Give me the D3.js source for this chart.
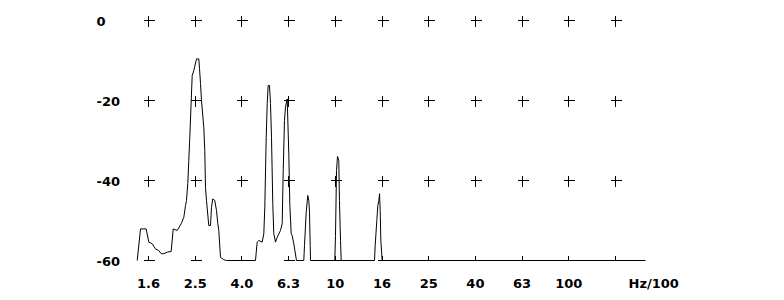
<!DOCTYPE html>
<html>
<head>
<meta charset="utf-8">
<script src="https://cdn.jsdelivr.net/npm/d3@7"></script>
<style>
  html, body { margin: 0; padding: 0; background: #fff; }
  svg { display: block; }
  text { font-family: "DejaVu Sans", sans-serif; font-weight: bold; font-size: 13px; fill: #000; }
</style>
</head>
<body>
<svg id="chart" width="784" height="300"></svg>
<script>
// Frequency axis: 1/5-decade steps (Hz/100)
const freqTicks = [1.585, 2.512, 3.981, 6.310, 10, 15.85, 25.12, 39.81, 63.10, 100, 158.5];
const freqLabels = ["1.6", "2.5", "4.0", "6.3", "10", "16", "25", "40", "63", "100", ""];
const freqUnit = "Hz/100";
// Level axis (dB)
const levelTicks = [0, -20, -40, -60];
const levelLabels = ["0", "-20", "-40", "-60"];

// Spectrum trace: frequency (Hz/100) and level (dB)
const specFreq = [
  1.418, 1.465, 1.549, 1.590, 1.644, 1.698, 1.754, 1.796, 1.843, 1.910,
  1.982, 2.022, 2.103, 2.188, 2.245, 2.283, 2.305, 2.335, 2.358, 2.382,
  2.415, 2.439, 2.478, 2.545, 2.603, 2.621, 2.647, 2.673, 2.734, 2.761,
  2.780, 2.808, 2.872, 2.921, 2.950, 2.988, 3.047, 3.099, 3.139, 3.170,
  3.224, 3.331, 3.420, 4.552, 4.629, 4.703, 4.863, 4.941, 4.990, 5.060,
  5.110, 5.159, 5.226, 5.279, 5.331, 5.399, 5.453, 5.545, 5.639, 5.825,
  5.924, 5.983, 6.059, 6.119, 6.223, 6.323, 6.384, 6.473, 6.537, 6.642,
  6.820, 7.330, 7.381, 7.506, 7.625, 7.700, 7.754, 7.808, 7.831, 9.952,
  10.02, 10.12, 10.22, 10.35, 10.42, 10.53, 10.60, 14.72, 14.82, 15.06,
  15.21, 15.36, 15.47, 15.57, 15.67, 15.88, 213.1
];
const specLevel = [
  -60, -52.1, -52.1, -55.4, -55.8, -57.1, -57.5, -58.3, -58.3, -57.9,
  -57.75, -52.1, -52.5, -50.8, -49.2, -46.25, -45, -40.75, -35, -29.2,
  -20, -13.75, -12.5, -9.6, -9.6, -12, -15.75, -20, -26.7, -32.5,
  -41.7, -45, -51.25, -51.25, -46.7, -44.6, -45, -47.5, -50.75, -52.5,
  -59.2, -59.8, -60, -60, -55.4, -55, -55.4, -53.3, -46.7, -29.2,
  -20.8, -16.25, -16.25, -20.8, -29.2, -45.8, -53.3, -55.4, -54.2, -52.5,
  -50.8, -37.5, -25, -21.7, -19.6, -33.3, -45.8, -53.3, -53.75, -55.8,
  -60, -60, -56.25, -47.9, -43.75, -45, -47.9, -56.25, -60, -60,
  -53.75, -37.5, -34, -35, -45, -55, -60, -60, -56.25, -50,
  -46.25, -45, -43.3, -47.5, -55, -60, -60
];

const svg = d3.select("#chart");
const g = svg.append("g").attr("transform", "translate(0.5,0.5)");

const x = d3.scaleLog().domain([freqTicks[0], freqTicks[freqTicks.length - 1]]).range([148, 615]);
const y = d3.scaleLinear().domain([-60, 0]).range([260, 20]);

// grid crosses
const arm = 5;
freqTicks.forEach(f => {
  const cx = Math.round(x(f));
  levelTicks.forEach(v => {
    const cy = Math.round(y(v));
    if (v === -60) {
      g.append("path").attr("d", `M${cx - arm},${cy}H${cx + arm + 1}M${cx},${cy}V${cy - arm}`)
        .attr("stroke", "#000").attr("fill", "none").attr("shape-rendering", "crispEdges");
    } else {
      g.append("path").attr("d", `M${cx - arm},${cy}H${cx + arm + 1}M${cx},${cy - arm}V${cy + arm + 1}`)
        .attr("stroke", "#000").attr("fill", "none").attr("shape-rendering", "crispEdges");
    }
  });
});

// level labels
g.selectAll("text.ylab").data(levelTicks).enter().append("text")
  .attr("class", "ylab")
  .attr("x", 96)
  .attr("y", d => y(d) + 5.5)
  .attr("text-anchor", "start")
  .text((d, i) => levelLabels[i]);

// frequency labels
g.selectAll("text.xlab").data(freqTicks).enter().append("text")
  .attr("class", "xlab")
  .attr("x", d => x(d))
  .attr("y", 287)
  .attr("text-anchor", "middle")
  .text((d, i) => freqLabels[i]);

g.append("text").attr("x", 628).attr("y", 287).attr("text-anchor", "start").text(freqUnit);

// spectrum line
const pts = specFreq.map((f, i) => [f, specLevel[i]]);
const line = d3.line().x(d => x(d[0])).y(d => y(d[1]));
g.append("path").datum(pts)
  .attr("d", line)
  .attr("fill", "none")
  .attr("stroke", "#000")
  .attr("stroke-width", 1);
</script>
</body>
</html>
